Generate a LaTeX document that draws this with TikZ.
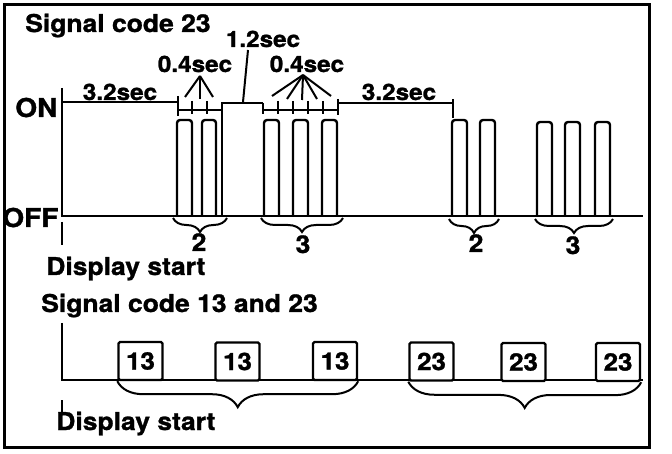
\documentclass[tikz,border=0pt]{standalone}
\usepackage{fontspec}
\newfontfamily\lblfont{TeX Gyre Heros}[FakeStretch=1.08,FakeBold=1.2]
\usetikzlibrary{decorations.pathreplacing}
\begin{document}
\begin{tikzpicture}[x=1pt,y=-1pt,line width=2.6pt,
  lbl/.style={inner sep=0pt,font={\lblfont\bfseries\fontsize{22.5pt}{22.5pt}\selectfont}},
  big/.style={inner sep=0pt,font={\lblfont\bfseries\fontsize{24.5pt}{24.5pt}\selectfont}},
  onoff/.style={inner sep=0pt,font={\lblfont\bfseries\fontsize{26pt}{26pt}\selectfont}},
  pulse/.style={line width=2.4pt,rounded corners=3pt},
  tick/.style={line width=2.2pt},
  fan/.style={line width=2pt},
  codebox/.style={draw,fill=white,line width=2.4pt,rounded corners=1.5pt,minimum width=44pt,minimum height=38pt,inner sep=0pt,
    font={\lblfont\bfseries\fontsize{24pt}{24pt}\selectfont}},
  brc/.style={decorate,decoration={brace,mirror,amplitude=#1},line width=2pt}]
\useasboundingbox (0,0) rectangle (672,454);
\fill[white] (0,0) rectangle (672,454);
% frame
\draw[line width=3pt] (4,5) rectangle (649,447);

% ---------- top: signal code 23 ----------
\node[big,anchor=base west] (t1) at (24,32) {Signal code 23};
\node[onoff,anchor=base west] (on) at (14,117) {ON};
\node[onoff,anchor=base west] (off) at (1,227) {OFF};

% axes
\draw (62,88) -- (62,216) -- (643,216);
\draw[tick] (62,222) -- (62,245);

% pulses
\foreach \a/\b/\t in {177/192/120,202/216/120,264/279/120,293/308/120,322/337/120,
                      452/467/120,480/495/120,537/552/122,565/580/122,595/610/122}
  \draw[pulse] (\a,216) -- (\a,\t) -- (\b,\t) -- (\b,216);

% 3.2 sec (first)
\draw (62,102) -- (178,102);
\draw[tick] (178,96) -- (178,116);
\node[lbl,anchor=base] (d1) at (120,100) {3.2sec};
% 0.4 sec group 1
\draw[tick] (178,110) -- (222,110);
\foreach \x in {192,207} \draw[tick] (\x,101) -- (\x,114);
% 1.2 sec block
\draw (222,216) -- (222,103) -- (263,103);
\draw[tick] (263,103) -- (263,114);
% 0.4 sec group 2
\draw[tick] (263,110) -- (338,110);
\foreach \x in {278,293,308,323} \draw[tick] (\x,101) -- (\x,114);
\draw[tick] (338,99) -- (338,115);
% 3.2 sec (second)
\draw (338,103) -- (453,103);
\draw[tick] (453,99) -- (453,118);
\node[lbl,anchor=base] (d2) at (399,100) {3.2sec};

% labels 0.4sec / 1.2sec with leaders
\node[lbl,anchor=base] (q1) at (195,72) {0.4sec};
\node[lbl,anchor=base] (q2) at (307,72) {0.4sec};
\node[lbl,anchor=base] (w1) at (263,47) {1.2sec};
\coordinate (ap1) at (200,76);
\coordinate (ap2) at (303,75);
\foreach \x/\y in {185/97,200/99,213/97}
  \draw[fan] (ap1) -- (\x,\y);
\foreach \x/\y in {272/96,287/99,302/100,317/99,331/96}
  \draw[fan] (ap2) -- (\x,\y);
\coordinate (lw) at (243,102);
\draw[fan] (248,50) -- (lw);

% braces and counts
\draw[brc=14pt] (173,218) -- (227,218);
\draw[brc=14pt] (261,218) -- (343,218);
\draw[brc=14pt] (449,219) -- (499,219);
\draw[brc=14pt] (535,219) -- (613,219);
\node[big,anchor=base] (n1) at (199,251) {2};
\node[big,anchor=base] (n2) at (303,253) {3};
\node[big,anchor=base] (n3) at (476,252) {2};
\node[big,anchor=base] (n4) at (573,254) {3};

\node[big,anchor=base west] (ds1) at (45,275) {Display start};

% ---------- bottom: signal code 13 and 23 ----------
\node[big,anchor=base west] (t2) at (40,312) {Signal code 13 and 23};
\draw (62,323) -- (62,380) -- (643,380);
\draw[tick] (62,400) -- (62,413);
\node[big,anchor=base west] (ds2) at (55,430) {Display start};

\node[codebox] (b1) at (140.5,361) {13};
\node[codebox] (b2) at (237.5,361.5) {13};
\node[codebox] (b3) at (335,361) {13};
\node[codebox] (b4) at (431.5,361.5) {23};
\node[codebox] (b5) at (523.5,362) {23};
\node[codebox] (b6) at (618,362) {23};

\draw[brc=26pt] (b1.south west) -- (b3.south east);
\draw[brc=26pt] (b4.south west) -- (b6.south east);
\end{tikzpicture}
\end{document}
